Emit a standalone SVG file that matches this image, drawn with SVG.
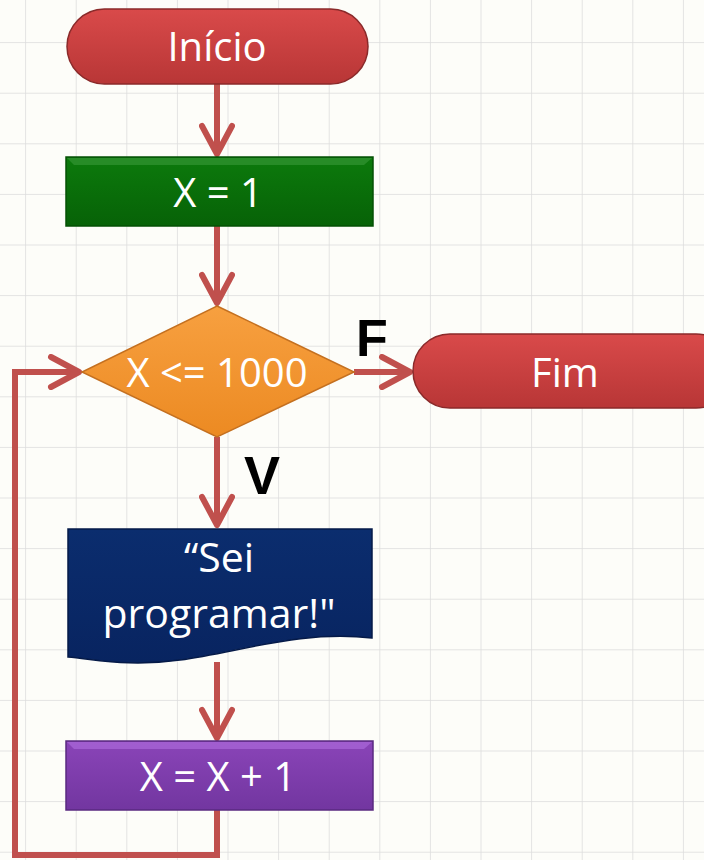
<svg xmlns="http://www.w3.org/2000/svg" width="704" height="860" viewBox="0 0 704 860">
<defs>
<pattern id="grid" x="-24.5" y="-7.5" width="50.6" height="50.6" patternUnits="userSpaceOnUse">
<path d="M50.6 0V50.6M0 50.6H50.6" fill="none" stroke="#dcdcdc" stroke-width="1.5"/>
</pattern>
<linearGradient id="gRed" x1="0" y1="0" x2="0" y2="1"><stop offset="0" stop-color="#d94a4a"/><stop offset="1" stop-color="#b83636"/></linearGradient>
<linearGradient id="gGreen" x1="0" y1="0" x2="0" y2="1"><stop offset="0" stop-color="#0c7a0c"/><stop offset="1" stop-color="#076207"/></linearGradient>
<linearGradient id="gOrange" x1="0" y1="0" x2="0" y2="1"><stop offset="0" stop-color="#f7a040"/><stop offset="1" stop-color="#ec8a22"/></linearGradient>
<linearGradient id="gNavy" x1="0" y1="0" x2="0" y2="1"><stop offset="0" stop-color="#0b2d6e"/><stop offset="1" stop-color="#082460"/></linearGradient>
<linearGradient id="gPurple" x1="0" y1="0" x2="0" y2="1"><stop offset="0" stop-color="#8a44b8"/><stop offset="1" stop-color="#7236a0"/></linearGradient>
<marker id="arr" viewBox="0 0 36 36" refX="32" refY="18" markerWidth="36" markerHeight="36" markerUnits="userSpaceOnUse" orient="auto">
<path d="M4 3L32 18L4 33" fill="none" stroke="#c0504d" stroke-width="6" stroke-linecap="round" stroke-linejoin="round"/>
</marker>
</defs>
<style>
.lbl{font-family:"Open Sans","Liberation Sans",sans-serif;fill:#ffffff;text-anchor:middle}
.tag{font-family:"Liberation Sans",sans-serif;font-weight:bold;fill:#000000;text-anchor:middle}
.con{fill:none;stroke:#c0504d;stroke-width:6}
</style>
<rect width="704" height="860" fill="#fdfdf9"/>
<rect width="704" height="860" fill="url(#grid)"/>

<g id="connectors">
<path class="con" d="M217 84V154" marker-end="url(#arr)"/>
<path class="con" d="M217 226V303" marker-end="url(#arr)"/>
<path class="con" d="M354 372H410" marker-end="url(#arr)"/>
<path class="con" d="M217 437V525" marker-end="url(#arr)"/>
<path class="con" d="M217 662V738" marker-end="url(#arr)"/>
<path class="con" d="M217 810V855H15V372H79" marker-end="url(#arr)"/>
</g>

<g id="inicio">
<rect x="67" y="9" width="301" height="75" rx="37.5" fill="url(#gRed)" stroke="#8a2a2a" stroke-width="1.5"/>
<text class="lbl" x="217" y="61" font-size="40">Início</text>
</g>

<g id="x1">
<rect x="66" y="157" width="307" height="69" fill="url(#gGreen)" stroke="#045004" stroke-width="1.5"/>
<path d="M67 158H372L364 165H74Z" fill="#3a9a3a" opacity="0.6"/>
<text class="lbl" x="218" y="207" font-size="40">X = 1</text>
</g>

<g id="decisao">
<polygon points="217,306 354,372 217,437 82,372" fill="url(#gOrange)" stroke="#c47020" stroke-width="1.5"/>
<text class="lbl" x="217" y="387" font-size="40">X &lt;= 1000</text>
</g>

<g id="fim">
<rect x="413" y="334" width="320" height="74" rx="37" fill="url(#gRed)" stroke="#8a2a2a" stroke-width="1.5"/>
<text class="lbl" x="565" y="387" font-size="40">Fim</text>
</g>

<g id="label-f"><text class="tag" x="372" y="356" font-size="52">F</text></g>
<g id="label-v"><text class="tag" x="262" y="494" font-size="54">V</text></g>

<g id="saida">
<path d="M68 529H372V638C300 630 240 652 180 660C130 667 100 660 68 657Z" fill="url(#gNavy)" stroke="#051a48" stroke-width="1.5"/>
<text class="lbl" x="219" y="572" font-size="41">“Sei</text>
<text class="lbl" x="219" y="628" font-size="41">programar!"</text>
</g>

<g id="incremento">
<rect x="66" y="741" width="307" height="69" fill="url(#gPurple)" stroke="#5a2a80" stroke-width="1.5"/>
<path d="M67 742H372L364 749H74Z" fill="#b070e0" opacity="0.6"/>
<text class="lbl" x="218" y="791" font-size="40">X = X + 1</text>
</g>
</svg>
